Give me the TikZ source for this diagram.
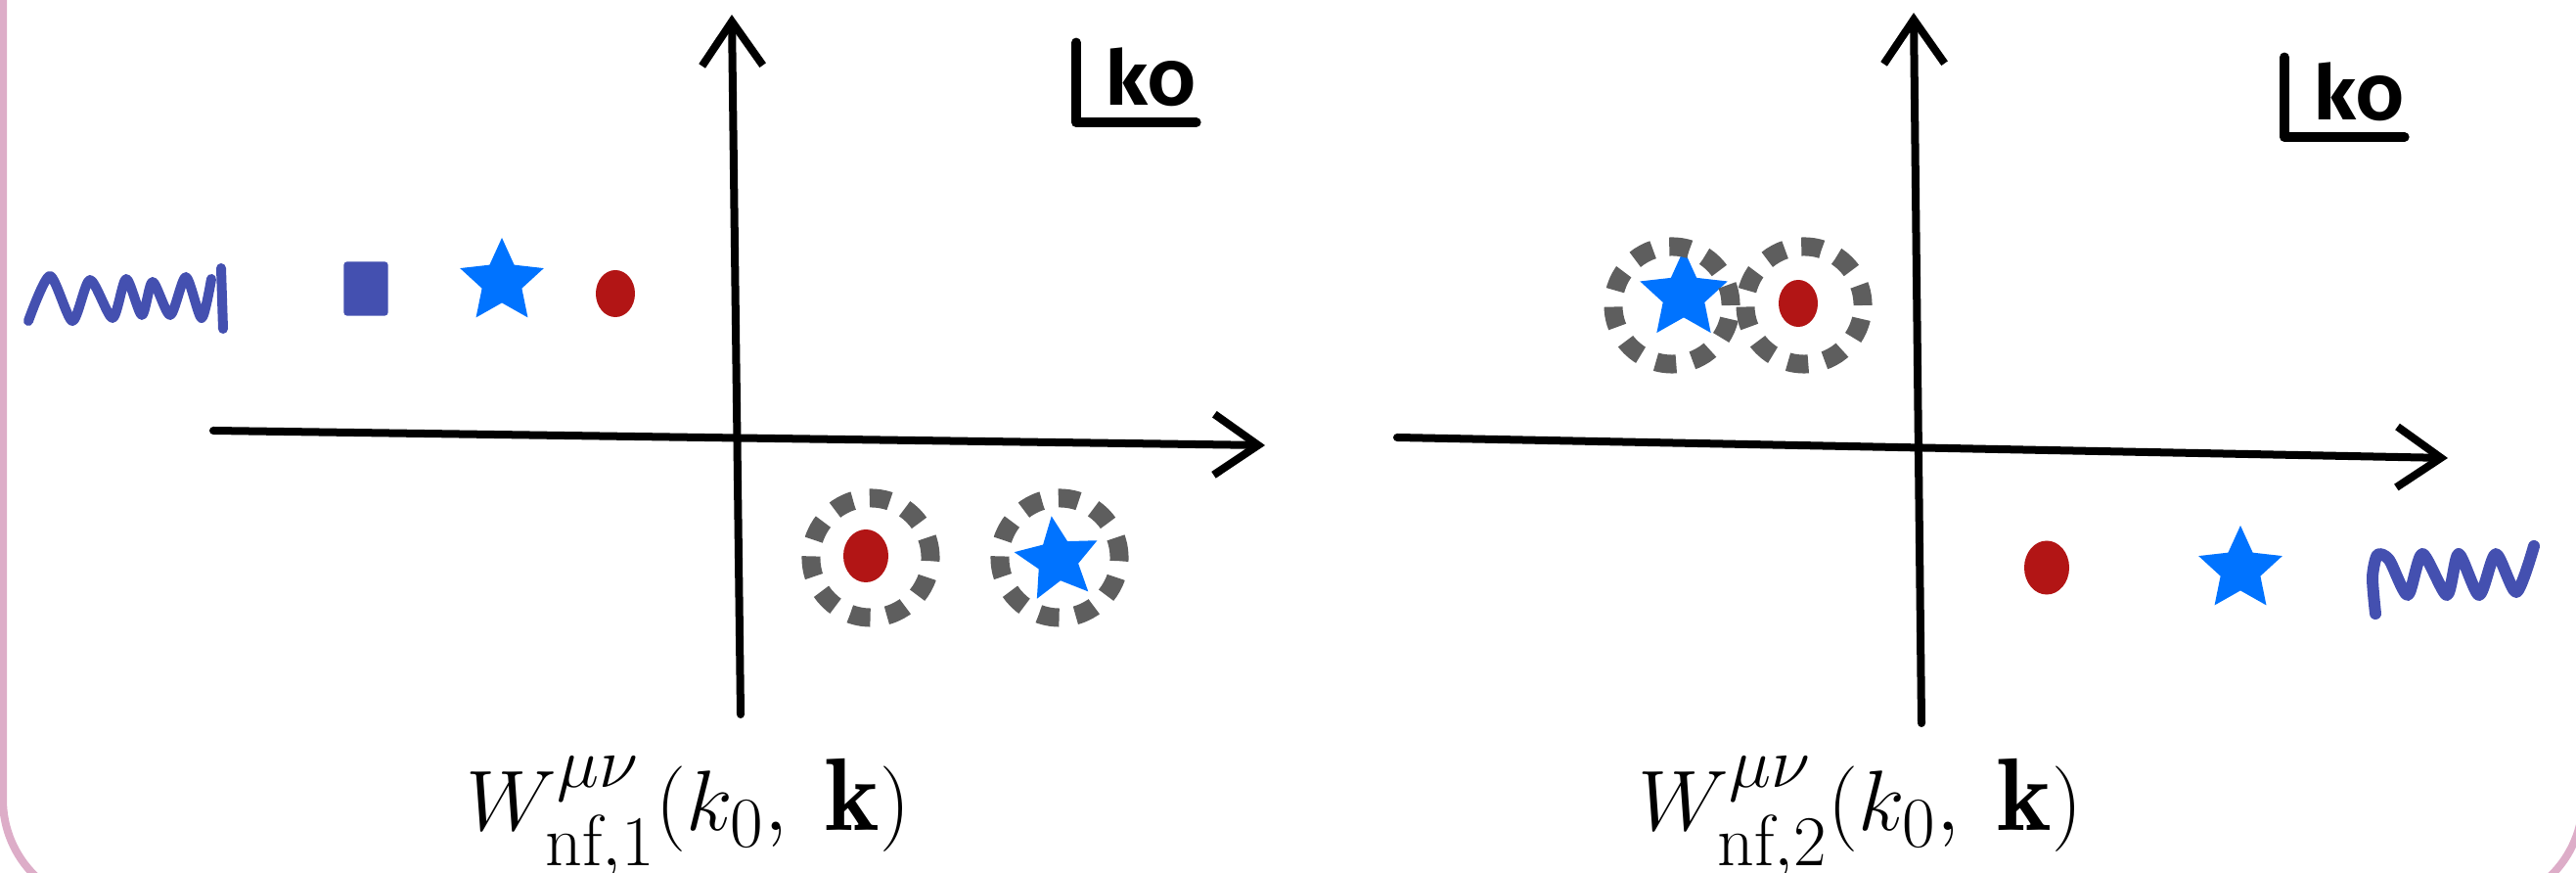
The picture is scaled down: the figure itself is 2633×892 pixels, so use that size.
\documentclass[tikz,border=0pt]{standalone}
\usepackage{amsmath}
\usepackage{fontspec}
\usepackage{tikz}
\usetikzlibrary{arrows.meta,shapes.geometric}
\newfontfamily\handfont{Fira Sans}[Numbers=OldStyle]
\definecolor{frame pink}{HTML}{DDADC8}
\definecolor{wave indigo}{HTML}{4450B0}
\definecolor{star blue}{HTML}{0073FF}
\definecolor{dot red}{HTML}{B21515}
\definecolor{ring gray}{HTML}{5E5E5E}
\tikzset{
  axis/.style={
    line width=0.08cm, line cap=round,
    -{Straight Barb[length=0.45cm, width=0.62cm, line width=0.08cm]},
  },
  wiggle/.style={
    draw=wave indigo, line width=0.1cm, line cap=round, line join=round,
  },
  red dot/.style={
    ellipse, fill=dot red, inner sep=0pt,
    minimum width=0.42cm, minimum height=0.5cm,
  },
  blue star/.style={
    star, star points=5, star point ratio=2.1,
    fill=star blue, inner sep=0pt, minimum size=#1,
  },
  gap square/.style={
    fill=wave indigo, inner sep=0pt, rounded corners=0.03cm,
    minimum width=0.45cm, minimum height=0.55cm,
  },
  pole ring/.style={
    circle, draw=ring gray, line width=0.19cm,
    dash pattern=on 0.21cm off 0.17cm,
    minimum size=1.22cm, inner sep=0pt,
  },
  panel label/.style={
    anchor=base west, font=\fontsize{30}{33}\selectfont,
  },
  tag/.style={
    anchor=base west, inner xsep=0.3cm, inner ysep=0.15cm,
    font=\handfont\bfseries\fontsize{22}{22}\selectfont,
  },
  tag corner/.style={
    line width=0.1cm, line cap=round, line join=round,
  },
}

\begin{document}
\begin{tikzpicture}[x=0.01cm, y=-0.01cm]
    \useasboundingbox (0,0) rectangle (2633,892);
    \clip (0,0) rectangle (2633,892);
    \draw [frame pink, line width=0.08cm, rounded corners=1.09cm]
        (3,-300) rectangle (2640,926);

    % axes
    \coordinate (re1 start) at (218,440);
    \coordinate (re1 end) at (1293,455);
    \coordinate (im1 start) at (757,730);
    \coordinate (im1 end) at (748,15);
    \coordinate (re2 start) at (1428,447);
    \coordinate (re2 end) at (2502,468);
    \coordinate (im2 start) at (1964,739);
    \coordinate (im2 end) at (1956,13);
    \draw [axis] (re1 start) -- (re1 end);
    \draw [axis] (im1 start) -- (im1 end);
    \draw [axis] (re2 start) -- (re2 end);
    \draw [axis] (im2 start) -- (im2 end);

    % first panel
    \draw [wiggle] plot [smooth, tension=0.45] coordinates {
        (29,328) (51,282) (74,328) (92,286) (115,325) (129,285)
        (145,322) (156,288) (174,322) (190,283) (206,325) (216,285)};
    \draw [wiggle] (226,274) -- (228,336);
    \node [gap square] (sq1) at (374,295) {};
    \node [blue star=0.9cm] (st1) at (513,288) {};
    \node [red dot, minimum width=0.4cm, minimum height=0.48cm] (dt1) at (629,300) {};
    \node [red dot, minimum width=0.46cm, minimum height=0.54cm] (dt2) at (885,568) {};
    \node [blue star=0.9cm, rotate=8] (st2) at (1081,572) {};
    \node [pole ring] (rg1) at (890,570) {};
    \node [pole ring] (rg2) at (1083,570) {};

    % second panel
    \node [blue star=0.94cm] (st3) at (1721,302) {};
    \node [red dot, minimum width=0.4cm, minimum height=0.48cm] (dt3) at (1838,310) {};
    \node [pole ring, minimum size=1.2cm] (rg3) at (1709,312) {};
    \node [pole ring, minimum size=1.2cm] (rg4) at (1844,312) {};
    \node [red dot, minimum width=0.46cm, minimum height=0.55cm] (dt4) at (2092,580) {};
    \node [blue star=0.9cm] (st4) at (2290,582) {};
    \draw [wiggle, line width=0.12cm] plot [smooth, tension=0.45] coordinates {
        (2428,627) (2425,590) (2430,567) (2442,572) (2461,608) (2476,566)
        (2501,608) (2513,566) (2534,608) (2551,566) (2572,605) (2590,558)};

    % k0 tags
    \node [tag] (tag1) at (1100,108) {k0};
    \draw [tag corner] ([yshift=-0.1cm]tag1.north west) |- ([xshift=-0.3cm]tag1.south east);
    \node [tag] (tag2) at (2335,123) {k0};
    \draw [tag corner] ([yshift=-0.1cm]tag2.north west) |- ([xshift=-0.3cm]tag2.south east);

    \node [panel label] (lab1) at (464,849) {$W^{\mu\nu}_{\mathrm{nf},1}(k_0,\;\mathbf{k})$};
    \node [panel label] (lab2) at (1662,849) {$W^{\mu\nu}_{\mathrm{nf},2}(k_0,\;\mathbf{k})$};
\end{tikzpicture}
\end{document}
